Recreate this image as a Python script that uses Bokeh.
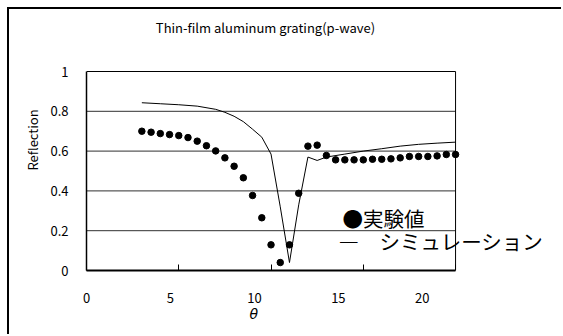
from bokeh.plotting import figure
from bokeh.models import Label, Range1d, FixedTicker, LinearAxis, Title
from bokeh.embed import file_html
from bokeh.resources import INLINE

# Measured data (theta in degrees, reflection)
exp_theta = [3, 3.5, 4, 4.5, 5, 5.5, 6, 6.5, 7, 7.5, 8, 8.5, 9, 9.5, 10, 10.5,
             11, 11.5, 12, 12.5, 13, 13.5, 14, 14.5, 15, 15.5, 16, 16.5, 17,
             17.5, 18, 18.5, 19, 19.5, 20]
exp_refl = [0.700, 0.695, 0.688, 0.683, 0.678, 0.668, 0.650, 0.627, 0.601, 0.566,
            0.524, 0.466, 0.377, 0.265, 0.129, 0.040, 0.129, 0.388, 0.625, 0.630,
            0.578, 0.556, 0.556, 0.556, 0.556, 0.559, 0.559, 0.561, 0.566, 0.573,
            0.573, 0.573, 0.576, 0.583, 0.583]

# Simulation
sim_theta = [3, 4, 5, 6, 7, 7.5, 8, 8.5, 9, 9.5, 10, 10.5, 11, 11.5, 12, 12.5,
             13, 14, 15, 16, 17, 18, 19, 20]
sim_refl = [0.843, 0.838, 0.833, 0.826, 0.810, 0.795, 0.775, 0.748, 0.710, 0.670,
            0.585, 0.320, 0.040, 0.330, 0.570, 0.553, 0.570, 0.585, 0.600, 0.612,
            0.625, 0.634, 0.640, 0.645]

x_lim = [0, 20]
y_lim = [0, 1]
x_ticks = [0, 5, 10, 15, 20]
y_ticks = [0, 0.2, 0.4, 0.6, 0.8, 1]
y_grid = [0.2, 0.4, 0.6, 0.8]

title_text = "Thin-film aluminum grating(p-wave)"
x_label = "θ"
y_label = "Reflection"
legend_exp = "●実験値"
legend_sim = "―　シミュレーション"

FONT = "Noto Sans CJK JP"

# Plot area spans x 0..20, y 0..1; the frame is extended right/up so the
# title and the legend (which overhang the plot area) are not clipped.
p = figure(width=554, height=327, output_backend="svg", toolbar_location=None,
           x_range=Range1d(0, 25.85), y_range=Range1d(0, 1.3116),
           min_border_left=77, min_border_right=0, min_border_top=0,
           min_border_bottom=66)
p.styles = {"border-left": "2px solid black", "border-top": "2px solid black",
            "margin-left": "7px", "margin-top": "7px"}
p.outline_line_color = None
p.xgrid.grid_line_color = None
p.ygrid.grid_line_color = None

# Tick labels in the original sit slightly left of their tick marks
p.extra_x_ranges = {"lab": Range1d(0, 28.41)}

# Horizontal gridlines inside the plot area
n = len(y_grid)
p.segment(x0=[x_lim[0]] * n, x1=[x_lim[1]] * n, y0=y_grid, y1=y_grid,
          line_color="#303030", line_width=1)
# Plot-area border (top and right)
p.segment(x0=[x_lim[0], x_lim[1]], x1=[x_lim[1], x_lim[1]],
          y0=[y_lim[1], y_lim[0]], y1=[y_lim[1], y_lim[1]],
          line_color="black", line_width=1)

# X axis: line and inward ticks
xa = p.xaxis[0]
xa.bounds = (x_lim[0], x_lim[1])
xa.ticker = FixedTicker(ticks=x_ticks)
xa.axis_line_color = "black"
xa.axis_line_width = 2
xa.major_tick_in = 6
xa.major_tick_out = 0
xa.major_tick_line_color = "black"
xa.minor_tick_line_color = None
xa.major_label_standoff = 0
xa.major_label_text_font_size = "1px"
xa.major_label_text_color = None

# X tick labels
xl = LinearAxis(x_range_name="lab", ticker=FixedTicker(ticks=x_ticks))
xl.axis_line_color = None
xl.major_tick_line_color = None
xl.minor_tick_line_color = None
xl.major_label_standoff = 16
xl.major_label_text_font = FONT
xl.major_label_text_font_size = "13px"
xl.major_label_text_color = "black"
p.add_layout(xl, "below")

# X axis title
p.add_layout(Title(text=x_label, align="left", offset=163, text_font="DejaVu Sans",
                   text_font_style="italic", text_font_size="14px",
                   text_color="black", standoff=-4), "below")

# Y axis
p.yaxis.bounds = (y_lim[0], y_lim[1])
p.yaxis.ticker = FixedTicker(ticks=y_ticks)
p.yaxis.axis_line_color = "black"
p.yaxis.axis_line_width = 1.5
p.yaxis.major_tick_line_color = None
p.yaxis.minor_tick_line_color = None
p.yaxis.major_label_standoff = 12
p.yaxis.major_label_text_font = FONT
p.yaxis.major_label_text_font_size = "13px"
p.yaxis.major_label_text_color = "black"
p.yaxis.axis_label = y_label
p.yaxis.axis_label_text_font = FONT
p.yaxis.axis_label_text_font_style = "normal"
p.yaxis.axis_label_text_font_size = "13px"
p.yaxis.axis_label_text_color = "black"
p.yaxis.axis_label_standoff = 5

# Data
p.line(sim_theta, sim_refl, line_color="black", line_width=1)
p.scatter(exp_theta, exp_refl, size=6.5, fill_color="black", line_color="black")

# Chart title
p.add_layout(Label(x=9.7, y=1.221, text=title_text, text_font=FONT,
                   text_font_size="13px", text_align="center",
                   text_baseline="middle", text_color="black"))

# Manual legend
p.add_layout(Label(x=13.875, y=0.266, text=legend_exp, text_font=FONT,
                   text_font_size="20.5px", text_baseline="middle", text_color="black"))
p.add_layout(Label(x=13.66, y=0.15, text=legend_sim, text_font=FONT,
                   text_font_size="20.5px", text_baseline="middle", text_color="black"))

open("out.html", "w").write(file_html(p, INLINE))
